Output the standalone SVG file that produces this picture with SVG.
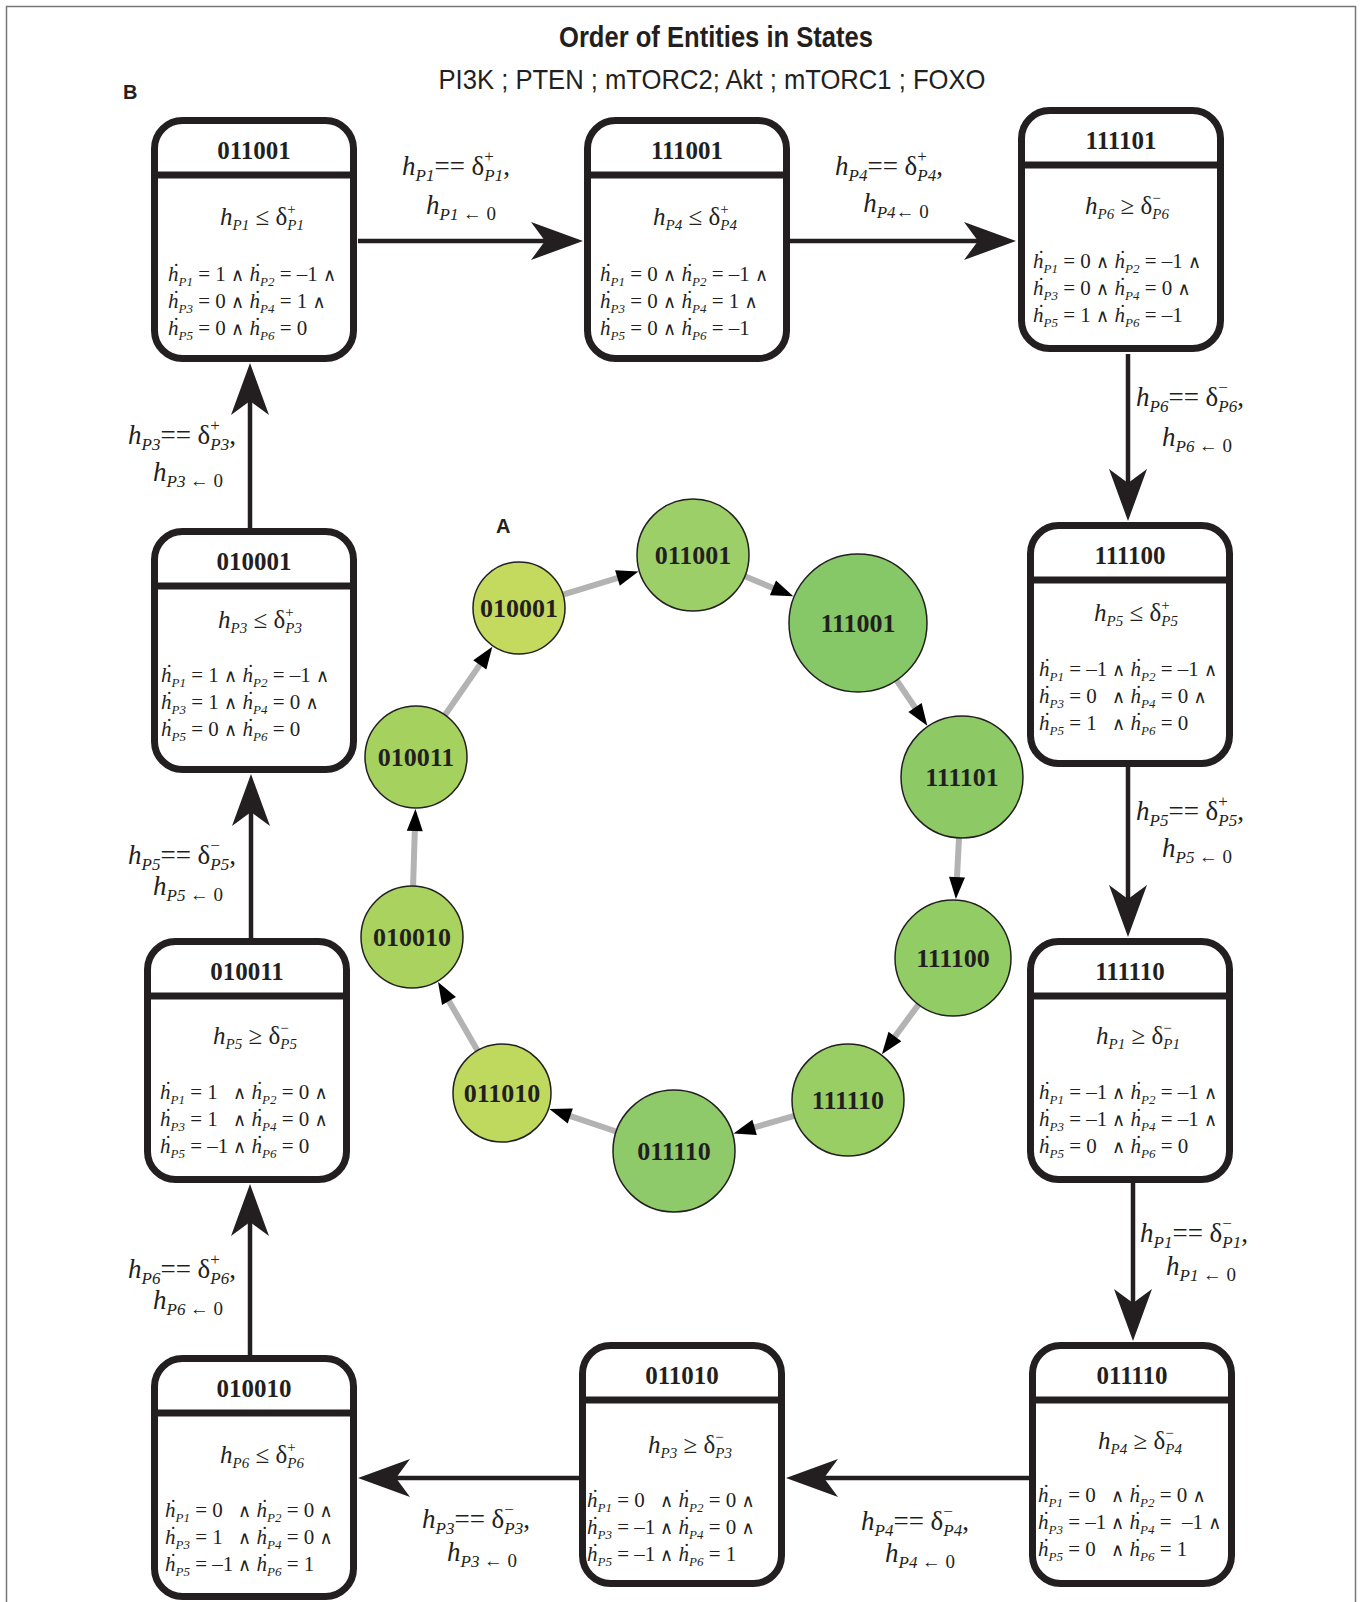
<svg xmlns="http://www.w3.org/2000/svg" width="1362" height="1602" viewBox="0 0 1362 1602">
<style>
text{font-family:"Liberation Serif","DejaVu Serif",serif;fill:#231f20}
.bx rect{fill:#fff;stroke:#231f20;stroke-width:7}
.bx line{stroke:#231f20;stroke-width:7}
.t{font-size:25px;font-weight:bold;text-anchor:middle}
.c{font-size:25px;text-anchor:middle}
.r{font-size:21px}
.w{font-size:18px}
.el{font-size:27px;text-anchor:middle}
.it{font-style:italic}
.sb{font-size:13px;font-style:italic}
.s2{font-size:15px;font-style:italic}
.p2{font-size:15px}
.s3{font-size:17px;font-style:italic}
.p3{font-size:17px}
.p4{font-size:19px}
.nt{font-size:26px;font-weight:bold;text-anchor:middle}
.hd{font-family:"Liberation Sans",Arial,sans-serif}
.cn circle{stroke:#231f20;stroke-width:1.5}
.ge{stroke:#b3b3b3;stroke-width:6;fill:none}
.be{stroke:#231f20;stroke-width:4.5;fill:none}
</style>
<defs>
<marker id="big" viewBox="-54 -21 56 42" refX="-34" refY="0" markerWidth="56" markerHeight="42" markerUnits="userSpaceOnUse" orient="auto"><path d="M0,0 L-52,-19 L-38,0 L-52,19 Z" fill="#231f20"/></marker>
<marker id="sm" viewBox="-23 -9 24 18" refX="-12" refY="0" markerWidth="24" markerHeight="18" markerUnits="userSpaceOnUse" orient="auto"><path d="M0,0 L-22,-8 L-22,8 Z" fill="#000"/></marker>
</defs>
<rect width="1362" height="1602" fill="#fff"/>
<path d="M6.5,1602 V6.5 H1355.5 V1602" fill="none" stroke="#777" stroke-width="1.5"/>
<text class="hd" x="716" y="47" font-size="29" font-weight="bold" text-anchor="middle" textLength="314" lengthAdjust="spacingAndGlyphs">Order of Entities in States</text>
<text class="hd" x="712" y="89" font-size="28" text-anchor="middle" textLength="547" lengthAdjust="spacingAndGlyphs">PI3K ; PTEN ; mTORC2; Akt ; mTORC1 ; FOXO</text>
<text class="hd" x="123" y="99" font-size="20" font-weight="bold">B</text>
<text class="hd" x="496" y="533" font-size="20" font-weight="bold">A</text>

<g id="connectors">
<g id="big-edges" marker-end="url(#big)">
<path class="be" d="M358,241 H549"/>
<path class="be" d="M790,241 H982"/>
<path class="be" d="M1128,354 V487"/>
<path class="be" d="M1128,767 V903"/>
<path class="be" d="M1133,1183 V1307"/>
<path class="be" d="M1029,1478 H820"/>
<path class="be" d="M579,1478 H392"/>
<path class="be" d="M250,1355 V1218"/>
<path class="be" d="M251,938 V808"/>
<path class="be" d="M250,528 V397"/>
</g>
<g id="graph-edges" marker-end="url(#sm)">
<path class="ge" d="M563,594.6 L627,575.1"/>
<path class="ge" d="M744.8,576.3 L782.2,591.7"/>
<path class="ge" d="M896.6,680.2 L920.6,715.7"/>
<path class="ge" d="M959,837.9 L956.5,887.1"/>
<path class="ge" d="M918.5,1004.6 L889,1044.6"/>
<path class="ge" d="M794.3,1115.8 L745,1130.2"/>
<path class="ge" d="M616.2,1131.5 L560.8,1112.8"/>
<path class="ge" d="M477.5,1050.6 L444,992.4"/>
<path class="ge" d="M413.1,886 L415.1,821"/>
<path class="ge" d="M445,715 L485.5,656.6"/>
</g>
<g id="edge-labels">
<text class="el" x="456" y="175"><tspan class="it">h</tspan><tspan class="s3" dy="6">P1</tspan><tspan dy="-6">== δ</tspan><tspan class="p3" dy="-13">+</tspan><tspan class="s3" dx="-9.6" dy="19">P1</tspan><tspan dy="-6">,</tspan></text>
<text class="el" x="461" y="214"><tspan class="it">h</tspan><tspan class="s3" dy="6">P1 </tspan><tspan class="p4">← 0</tspan></text>
<text class="el" x="889" y="175"><tspan class="it">h</tspan><tspan class="s3" dy="6">P4</tspan><tspan dy="-6">== δ</tspan><tspan class="p3" dy="-13">+</tspan><tspan class="s3" dx="-9.6" dy="19">P4</tspan><tspan dy="-6">,</tspan></text>
<text class="el" x="896" y="212"><tspan class="it">h</tspan><tspan class="s3" dy="6">P4</tspan><tspan class="p4">← 0</tspan></text>
<text class="el" x="1190" y="406"><tspan class="it">h</tspan><tspan class="s3" dy="6">P6</tspan><tspan dy="-6">== δ</tspan><tspan class="p3" dy="-13">−</tspan><tspan class="s3" dx="-9.6" dy="19">P6</tspan><tspan dy="-6">,</tspan></text>
<text class="el" x="1197" y="446"><tspan class="it">h</tspan><tspan class="s3" dy="6">P6 </tspan><tspan class="p4">← 0</tspan></text>
<text class="el" x="1190" y="820"><tspan class="it">h</tspan><tspan class="s3" dy="6">P5</tspan><tspan dy="-6">== δ</tspan><tspan class="p3" dy="-13">+</tspan><tspan class="s3" dx="-9.6" dy="19">P5</tspan><tspan dy="-6">,</tspan></text>
<text class="el" x="1197" y="857"><tspan class="it">h</tspan><tspan class="s3" dy="6">P5 </tspan><tspan class="p4">← 0</tspan></text>
<text class="el" x="1194" y="1242"><tspan class="it">h</tspan><tspan class="s3" dy="6">P1</tspan><tspan dy="-6">== δ</tspan><tspan class="p3" dy="-13">−</tspan><tspan class="s3" dx="-9.6" dy="19">P1</tspan><tspan dy="-6">,</tspan></text>
<text class="el" x="1201" y="1275"><tspan class="it">h</tspan><tspan class="s3" dy="6">P1 </tspan><tspan class="p4">← 0</tspan></text>
<text class="el" x="915" y="1530"><tspan class="it">h</tspan><tspan class="s3" dy="6">P4</tspan><tspan dy="-6">== δ</tspan><tspan class="p3" dy="-13">−</tspan><tspan class="s3" dx="-9.6" dy="19">P4</tspan><tspan dy="-6">,</tspan></text>
<text class="el" x="920" y="1562"><tspan class="it">h</tspan><tspan class="s3" dy="6">P4 </tspan><tspan class="p4">← 0</tspan></text>
<text class="el" x="476" y="1528"><tspan class="it">h</tspan><tspan class="s3" dy="6">P3</tspan><tspan dy="-6">== δ</tspan><tspan class="p3" dy="-13">−</tspan><tspan class="s3" dx="-9.6" dy="19">P3</tspan><tspan dy="-6">,</tspan></text>
<text class="el" x="482" y="1561"><tspan class="it">h</tspan><tspan class="s3" dy="6">P3 </tspan><tspan class="p4">← 0</tspan></text>
<text class="el" x="182" y="1278"><tspan class="it">h</tspan><tspan class="s3" dy="6">P6</tspan><tspan dy="-6">== δ</tspan><tspan class="p3" dy="-13">+</tspan><tspan class="s3" dx="-9.6" dy="19">P6</tspan><tspan dy="-6">,</tspan></text>
<text class="el" x="188" y="1309"><tspan class="it">h</tspan><tspan class="s3" dy="6">P6 </tspan><tspan class="p4">← 0</tspan></text>
<text class="el" x="182" y="864"><tspan class="it">h</tspan><tspan class="s3" dy="6">P5</tspan><tspan dy="-6">== δ</tspan><tspan class="p3" dy="-13">−</tspan><tspan class="s3" dx="-9.6" dy="19">P5</tspan><tspan dy="-6">,</tspan></text>
<text class="el" x="188" y="895"><tspan class="it">h</tspan><tspan class="s3" dy="6">P5 </tspan><tspan class="p4">← 0</tspan></text>
<text class="el" x="182" y="444"><tspan class="it">h</tspan><tspan class="s3" dy="6">P3</tspan><tspan dy="-6">== δ</tspan><tspan class="p3" dy="-13">+</tspan><tspan class="s3" dx="-9.6" dy="19">P3</tspan><tspan dy="-6">,</tspan></text>
<text class="el" x="188" y="481"><tspan class="it">h</tspan><tspan class="s3" dy="6">P3 </tspan><tspan class="p4">← 0</tspan></text>
</g>
</g>

<g id="box-011001" class="bx">
<rect x="154.5" y="120.5" width="199" height="238" rx="28"/>
<line x1="153" y1="175" x2="355" y2="175"/>
<text class="t" x="254" y="159">011001</text>
<text class="c" x="262" y="225"><tspan class="it">h</tspan><tspan class="s2" dy="5">P1</tspan><tspan dy="-5"> ≤ δ</tspan><tspan class="p2" dy="-11">+</tspan><tspan class="s2" dx="-8.5" dy="16">P1</tspan></text>
<text class="r" x="168" y="281"><tspan class="it">h&#x307;</tspan><tspan class="sb" dy="5">P1</tspan><tspan dy="-5"> = 1</tspan><tspan class="w" x="231">∧</tspan> <tspan class="it">h&#x307;</tspan><tspan class="sb" dy="5">P2</tspan><tspan dy="-5"> = –1 </tspan><tspan class="w">∧</tspan></text>
<text class="r" x="168" y="308"><tspan class="it">h&#x307;</tspan><tspan class="sb" dy="5">P3</tspan><tspan dy="-5"> = 0</tspan><tspan class="w" x="231">∧</tspan> <tspan class="it">h&#x307;</tspan><tspan class="sb" dy="5">P4</tspan><tspan dy="-5"> = 1 </tspan><tspan class="w">∧</tspan></text>
<text class="r" x="168" y="335"><tspan class="it">h&#x307;</tspan><tspan class="sb" dy="5">P5</tspan><tspan dy="-5"> = 0</tspan><tspan class="w" x="231">∧</tspan> <tspan class="it">h&#x307;</tspan><tspan class="sb" dy="5">P6</tspan><tspan dy="-5"> = 0</tspan></text>
</g>

<g id="box-111001" class="bx">
<rect x="587.5" y="120.5" width="199" height="238" rx="28"/>
<line x1="586" y1="175" x2="788" y2="175"/>
<text class="t" x="687" y="159">111001</text>
<text class="c" x="695" y="225"><tspan class="it">h</tspan><tspan class="s2" dy="5">P4</tspan><tspan dy="-5"> ≤ δ</tspan><tspan class="p2" dy="-11">+</tspan><tspan class="s2" dx="-8.5" dy="16">P4</tspan></text>
<text class="r" x="600" y="281"><tspan class="it">h&#x307;</tspan><tspan class="sb" dy="5">P1</tspan><tspan dy="-5"> = 0</tspan><tspan class="w" x="663">∧</tspan> <tspan class="it">h&#x307;</tspan><tspan class="sb" dy="5">P2</tspan><tspan dy="-5"> = –1 </tspan><tspan class="w">∧</tspan></text>
<text class="r" x="600" y="308"><tspan class="it">h&#x307;</tspan><tspan class="sb" dy="5">P3</tspan><tspan dy="-5"> = 0</tspan><tspan class="w" x="663">∧</tspan> <tspan class="it">h&#x307;</tspan><tspan class="sb" dy="5">P4</tspan><tspan dy="-5"> = 1 </tspan><tspan class="w">∧</tspan></text>
<text class="r" x="600" y="335"><tspan class="it">h&#x307;</tspan><tspan class="sb" dy="5">P5</tspan><tspan dy="-5"> = 0</tspan><tspan class="w" x="663">∧</tspan> <tspan class="it">h&#x307;</tspan><tspan class="sb" dy="5">P6</tspan><tspan dy="-5"> = –1</tspan></text>
</g>

<g id="box-111101" class="bx">
<rect x="1021.5" y="110.5" width="199" height="238" rx="28"/>
<line x1="1020" y1="165" x2="1222" y2="165"/>
<text class="t" x="1121" y="149">111101</text>
<text class="c" x="1127" y="214"><tspan class="it">h</tspan><tspan class="s2" dy="5">P6</tspan><tspan dy="-5"> ≥ δ</tspan><tspan class="p2" dy="-11">−</tspan><tspan class="s2" dx="-8.5" dy="16">P6</tspan></text>
<text class="r" x="1033" y="268"><tspan class="it">h&#x307;</tspan><tspan class="sb" dy="5">P1</tspan><tspan dy="-5"> = 0</tspan><tspan class="w" x="1096">∧</tspan> <tspan class="it">h&#x307;</tspan><tspan class="sb" dy="5">P2</tspan><tspan dy="-5"> = –1 </tspan><tspan class="w">∧</tspan></text>
<text class="r" x="1033" y="295"><tspan class="it">h&#x307;</tspan><tspan class="sb" dy="5">P3</tspan><tspan dy="-5"> = 0</tspan><tspan class="w" x="1096">∧</tspan> <tspan class="it">h&#x307;</tspan><tspan class="sb" dy="5">P4</tspan><tspan dy="-5"> = 0 </tspan><tspan class="w">∧</tspan></text>
<text class="r" x="1033" y="322"><tspan class="it">h&#x307;</tspan><tspan class="sb" dy="5">P5</tspan><tspan dy="-5"> = 1</tspan><tspan class="w" x="1096">∧</tspan> <tspan class="it">h&#x307;</tspan><tspan class="sb" dy="5">P6</tspan><tspan dy="-5"> = –1</tspan></text>
</g>

<g id="box-111100" class="bx">
<rect x="1030.5" y="525.5" width="199" height="238" rx="28"/>
<line x1="1029" y1="580" x2="1231" y2="580"/>
<text class="t" x="1130" y="564">111100</text>
<text class="c" x="1136" y="621"><tspan class="it">h</tspan><tspan class="s2" dy="5">P5</tspan><tspan dy="-5"> ≤ δ</tspan><tspan class="p2" dy="-11">+</tspan><tspan class="s2" dx="-8.5" dy="16">P5</tspan></text>
<text class="r" x="1039" y="676"><tspan class="it">h&#x307;</tspan><tspan class="sb" dy="5">P1</tspan><tspan dy="-5"> = –1</tspan><tspan class="w" x="1112">∧</tspan> <tspan class="it">h&#x307;</tspan><tspan class="sb" dy="5">P2</tspan><tspan dy="-5"> = –1 </tspan><tspan class="w">∧</tspan></text>
<text class="r" x="1039" y="703"><tspan class="it">h&#x307;</tspan><tspan class="sb" dy="5">P3</tspan><tspan dy="-5"> = 0</tspan><tspan class="w" x="1112">∧</tspan> <tspan class="it">h&#x307;</tspan><tspan class="sb" dy="5">P4</tspan><tspan dy="-5"> = 0 </tspan><tspan class="w">∧</tspan></text>
<text class="r" x="1039" y="730"><tspan class="it">h&#x307;</tspan><tspan class="sb" dy="5">P5</tspan><tspan dy="-5"> = 1</tspan><tspan class="w" x="1112">∧</tspan> <tspan class="it">h&#x307;</tspan><tspan class="sb" dy="5">P6</tspan><tspan dy="-5"> = 0</tspan></text>
</g>

<g id="box-111110" class="bx">
<rect x="1030.5" y="941.5" width="199" height="238" rx="28"/>
<line x1="1029" y1="996" x2="1231" y2="996"/>
<text class="t" x="1130" y="980">111110</text>
<text class="c" x="1138" y="1044"><tspan class="it">h</tspan><tspan class="s2" dy="5">P1</tspan><tspan dy="-5"> ≥ δ</tspan><tspan class="p2" dy="-11">−</tspan><tspan class="s2" dx="-8.5" dy="16">P1</tspan></text>
<text class="r" x="1039" y="1099"><tspan class="it">h&#x307;</tspan><tspan class="sb" dy="5">P1</tspan><tspan dy="-5"> = –1</tspan><tspan class="w" x="1112">∧</tspan> <tspan class="it">h&#x307;</tspan><tspan class="sb" dy="5">P2</tspan><tspan dy="-5"> = –1 </tspan><tspan class="w">∧</tspan></text>
<text class="r" x="1039" y="1126"><tspan class="it">h&#x307;</tspan><tspan class="sb" dy="5">P3</tspan><tspan dy="-5"> = –1</tspan><tspan class="w" x="1112">∧</tspan> <tspan class="it">h&#x307;</tspan><tspan class="sb" dy="5">P4</tspan><tspan dy="-5"> = –1 </tspan><tspan class="w">∧</tspan></text>
<text class="r" x="1039" y="1153"><tspan class="it">h&#x307;</tspan><tspan class="sb" dy="5">P5</tspan><tspan dy="-5"> = 0</tspan><tspan class="w" x="1112">∧</tspan> <tspan class="it">h&#x307;</tspan><tspan class="sb" dy="5">P6</tspan><tspan dy="-5"> = 0</tspan></text>
</g>

<g id="box-011110" class="bx">
<rect x="1032.5" y="1345.5" width="199" height="238" rx="28"/>
<line x1="1031" y1="1400" x2="1233" y2="1400"/>
<text class="t" x="1132" y="1384">011110</text>
<text class="c" x="1140" y="1449"><tspan class="it">h</tspan><tspan class="s2" dy="5">P4</tspan><tspan dy="-5"> ≥ δ</tspan><tspan class="p2" dy="-11">−</tspan><tspan class="s2" dx="-8.5" dy="16">P4</tspan></text>
<text class="r" x="1038" y="1502"><tspan class="it">h&#x307;</tspan><tspan class="sb" dy="5">P1</tspan><tspan dy="-5"> = 0</tspan><tspan class="w" x="1111">∧</tspan> <tspan class="it">h&#x307;</tspan><tspan class="sb" dy="5">P2</tspan><tspan dy="-5"> = 0 </tspan><tspan class="w">∧</tspan></text>
<text class="r" x="1038" y="1529"><tspan class="it">h&#x307;</tspan><tspan class="sb" dy="5">P3</tspan><tspan dy="-5"> = –1</tspan><tspan class="w" x="1111">∧</tspan> <tspan class="it">h&#x307;</tspan><tspan class="sb" dy="5">P4</tspan><tspan dy="-5"> =&#160; –1 </tspan><tspan class="w">∧</tspan></text>
<text class="r" x="1038" y="1556"><tspan class="it">h&#x307;</tspan><tspan class="sb" dy="5">P5</tspan><tspan dy="-5"> = 0</tspan><tspan class="w" x="1111">∧</tspan> <tspan class="it">h&#x307;</tspan><tspan class="sb" dy="5">P6</tspan><tspan dy="-5"> = 1</tspan></text>
</g>

<g id="box-011010" class="bx">
<rect x="582.5" y="1345.5" width="199" height="238" rx="28"/>
<line x1="581" y1="1400" x2="783" y2="1400"/>
<text class="t" x="682" y="1384">011010</text>
<text class="c" x="690" y="1453"><tspan class="it">h</tspan><tspan class="s2" dy="5">P3</tspan><tspan dy="-5"> ≥ δ</tspan><tspan class="p2" dy="-11">−</tspan><tspan class="s2" dx="-8.5" dy="16">P3</tspan></text>
<text class="r" x="587" y="1507"><tspan class="it">h&#x307;</tspan><tspan class="sb" dy="5">P1</tspan><tspan dy="-5"> = 0</tspan><tspan class="w" x="660">∧</tspan> <tspan class="it">h&#x307;</tspan><tspan class="sb" dy="5">P2</tspan><tspan dy="-5"> = 0 </tspan><tspan class="w">∧</tspan></text>
<text class="r" x="587" y="1534"><tspan class="it">h&#x307;</tspan><tspan class="sb" dy="5">P3</tspan><tspan dy="-5"> = –1</tspan><tspan class="w" x="660">∧</tspan> <tspan class="it">h&#x307;</tspan><tspan class="sb" dy="5">P4</tspan><tspan dy="-5"> = 0 </tspan><tspan class="w">∧</tspan></text>
<text class="r" x="587" y="1561"><tspan class="it">h&#x307;</tspan><tspan class="sb" dy="5">P5</tspan><tspan dy="-5"> = –1</tspan><tspan class="w" x="660">∧</tspan> <tspan class="it">h&#x307;</tspan><tspan class="sb" dy="5">P6</tspan><tspan dy="-5"> = 1</tspan></text>
</g>

<g id="box-010010" class="bx">
<rect x="154.5" y="1358.5" width="199" height="238" rx="28"/>
<line x1="153" y1="1413" x2="355" y2="1413"/>
<text class="t" x="254" y="1397">010010</text>
<text class="c" x="262" y="1463"><tspan class="it">h</tspan><tspan class="s2" dy="5">P6</tspan><tspan dy="-5"> ≤ δ</tspan><tspan class="p2" dy="-11">+</tspan><tspan class="s2" dx="-8.5" dy="16">P6</tspan></text>
<text class="r" x="165" y="1517"><tspan class="it">h&#x307;</tspan><tspan class="sb" dy="5">P1</tspan><tspan dy="-5"> = 0</tspan><tspan class="w" x="238">∧</tspan> <tspan class="it">h&#x307;</tspan><tspan class="sb" dy="5">P2</tspan><tspan dy="-5"> = 0 </tspan><tspan class="w">∧</tspan></text>
<text class="r" x="165" y="1544"><tspan class="it">h&#x307;</tspan><tspan class="sb" dy="5">P3</tspan><tspan dy="-5"> = 1</tspan><tspan class="w" x="238">∧</tspan> <tspan class="it">h&#x307;</tspan><tspan class="sb" dy="5">P4</tspan><tspan dy="-5"> = 0 </tspan><tspan class="w">∧</tspan></text>
<text class="r" x="165" y="1571"><tspan class="it">h&#x307;</tspan><tspan class="sb" dy="5">P5</tspan><tspan dy="-5"> = –1</tspan><tspan class="w" x="238">∧</tspan> <tspan class="it">h&#x307;</tspan><tspan class="sb" dy="5">P6</tspan><tspan dy="-5"> = 1</tspan></text>
</g>

<g id="box-010011" class="bx">
<rect x="147.5" y="941.5" width="199" height="238" rx="28"/>
<line x1="146" y1="996" x2="348" y2="996"/>
<text class="t" x="247" y="980">010011</text>
<text class="c" x="255" y="1044"><tspan class="it">h</tspan><tspan class="s2" dy="5">P5</tspan><tspan dy="-5"> ≥ δ</tspan><tspan class="p2" dy="-11">−</tspan><tspan class="s2" dx="-8.5" dy="16">P5</tspan></text>
<text class="r" x="160" y="1099"><tspan class="it">h&#x307;</tspan><tspan class="sb" dy="5">P1</tspan><tspan dy="-5"> = 1</tspan><tspan class="w" x="233">∧</tspan> <tspan class="it">h&#x307;</tspan><tspan class="sb" dy="5">P2</tspan><tspan dy="-5"> = 0 </tspan><tspan class="w">∧</tspan></text>
<text class="r" x="160" y="1126"><tspan class="it">h&#x307;</tspan><tspan class="sb" dy="5">P3</tspan><tspan dy="-5"> = 1</tspan><tspan class="w" x="233">∧</tspan> <tspan class="it">h&#x307;</tspan><tspan class="sb" dy="5">P4</tspan><tspan dy="-5"> = 0 </tspan><tspan class="w">∧</tspan></text>
<text class="r" x="160" y="1153"><tspan class="it">h&#x307;</tspan><tspan class="sb" dy="5">P5</tspan><tspan dy="-5"> = –1</tspan><tspan class="w" x="233">∧</tspan> <tspan class="it">h&#x307;</tspan><tspan class="sb" dy="5">P6</tspan><tspan dy="-5"> = 0</tspan></text>
</g>

<g id="box-010001" class="bx">
<rect x="154.5" y="531.5" width="199" height="238" rx="28"/>
<line x1="153" y1="586" x2="355" y2="586"/>
<text class="t" x="254" y="570">010001</text>
<text class="c" x="260" y="628"><tspan class="it">h</tspan><tspan class="s2" dy="5">P3</tspan><tspan dy="-5"> ≤ δ</tspan><tspan class="p2" dy="-11">+</tspan><tspan class="s2" dx="-8.5" dy="16">P3</tspan></text>
<text class="r" x="161" y="682"><tspan class="it">h&#x307;</tspan><tspan class="sb" dy="5">P1</tspan><tspan dy="-5"> = 1</tspan><tspan class="w" x="224">∧</tspan> <tspan class="it">h&#x307;</tspan><tspan class="sb" dy="5">P2</tspan><tspan dy="-5"> = –1 </tspan><tspan class="w">∧</tspan></text>
<text class="r" x="161" y="709"><tspan class="it">h&#x307;</tspan><tspan class="sb" dy="5">P3</tspan><tspan dy="-5"> = 1</tspan><tspan class="w" x="224">∧</tspan> <tspan class="it">h&#x307;</tspan><tspan class="sb" dy="5">P4</tspan><tspan dy="-5"> = 0 </tspan><tspan class="w">∧</tspan></text>
<text class="r" x="161" y="736"><tspan class="it">h&#x307;</tspan><tspan class="sb" dy="5">P5</tspan><tspan dy="-5"> = 0</tspan><tspan class="w" x="224">∧</tspan> <tspan class="it">h&#x307;</tspan><tspan class="sb" dy="5">P6</tspan><tspan dy="-5"> = 0</tspan></text>
</g>

<g id="circle-nodes" class="cn">
<g id="n-010001"><circle cx="519" cy="608" r="46" fill="#c4da5f"/><text class="nt" x="519" y="617">010001</text></g>
<g id="n-011001"><circle cx="693" cy="555" r="56" fill="#9dcf68"/><text class="nt" x="693" y="564">011001</text></g>
<g id="n-111001"><circle cx="858" cy="623" r="69" fill="#86c867"/><text class="nt" x="858" y="632">111001</text></g>
<g id="n-111101"><circle cx="962" cy="777" r="61" fill="#8dca66"/><text class="nt" x="962" y="786">111101</text></g>
<g id="n-111100"><circle cx="953" cy="958" r="58" fill="#92cc64"/><text class="nt" x="953" y="967">111100</text></g>
<g id="n-111110"><circle cx="848" cy="1100" r="56" fill="#98ce63"/><text class="nt" x="848" y="1109">111110</text></g>
<g id="n-011110"><circle cx="674" cy="1151" r="61" fill="#8fca6a"/><text class="nt" x="674" y="1160">011110</text></g>
<g id="n-011010"><circle cx="502" cy="1093" r="49" fill="#bfd95f"/><text class="nt" x="502" y="1102">011010</text></g>
<g id="n-010010"><circle cx="412" cy="937" r="51" fill="#a9d25e"/><text class="nt" x="412" y="946">010010</text></g>
<g id="n-010011"><circle cx="416" cy="757" r="51" fill="#a5d15f"/><text class="nt" x="416" y="766">010011</text></g>
</g>
</svg>
